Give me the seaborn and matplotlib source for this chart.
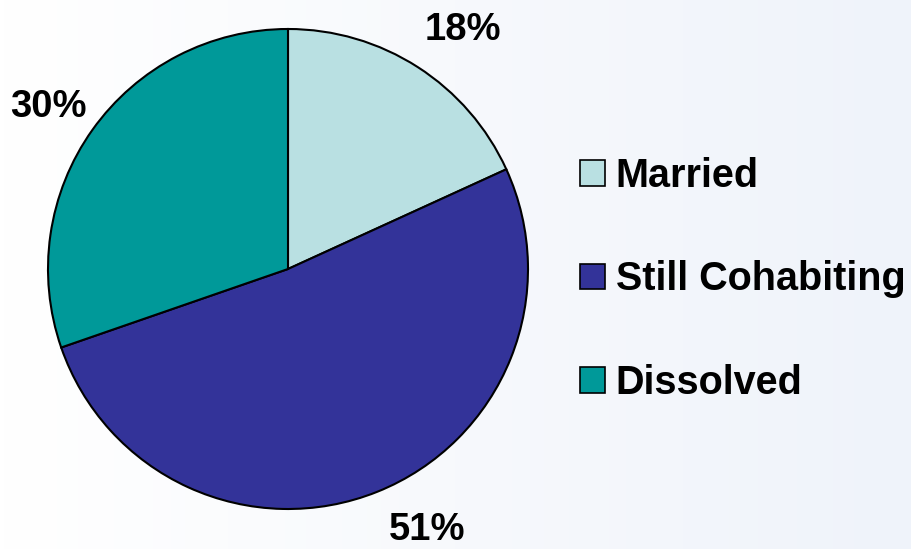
import numpy as np
import seaborn as sns
import matplotlib.pyplot as plt

# Dados do gráfico
categorias = ['Married', 'Still Cohabiting', 'Dissolved']
percentuais = [18, 51, 30]
rotulos = ['18%', '51%', '30%']
cores = sns.color_palette(['#B9E0E2', '#333399', '#009999'])

sns.set_style('white')
plt.rcParams['font.family'] = ['Liberation Sans', 'DejaVu Sans']
plt.rcParams['font.weight'] = 'bold'
plt.rcParams['text.color'] = 'black'

fig = plt.figure(figsize=(9.11, 5.49), dpi=100)
ax = fig.add_axes([0, 0, 1, 1])
ax.set_xlim(0, 911)
ax.set_ylim(0, 549)
ax.set_aspect('equal')
ax.axis('off')

# Fundo em degradê (branco -> azul claro)
grad = np.linspace(0, 1, 256)
cor_ini = np.array([1.0, 1.0, 1.0])
cor_fim = np.array([0xEF, 0xF3, 0xFA]) / 255
img = cor_ini[None, :] + (cor_fim - cor_ini)[None, :] * grad[:, None]
ax.imshow(img[None, :, :], extent=[0, 911, 0, 549], aspect='auto', zorder=0)

# Pizza
centro = (288, 280)
raio = 240
wedges, _ = ax.pie(percentuais, colors=cores, startangle=90, counterclock=False,
                   center=centro, radius=raio, frame=True,
                   wedgeprops=dict(edgecolor='black', linewidth=1.5))
ax.set_xlim(0, 911)
ax.set_ylim(0, 549)
ax.axis('off')

# Rótulos de porcentagem
pos_rotulos = [(463, 519), (427, 19), (48, 442)]
for txt, (x, y) in zip(rotulos, pos_rotulos):
    ax.text(x, y, txt, ha='center', va='center', fontsize=27.5,
            fontweight='bold', color='black')

# Legenda
leg = ax.legend(wedges, categorias, loc='center left', bbox_to_anchor=(580 / 911, 0.491),
                frameon=False, fontsize=28.5, handlelength=0.62, handleheight=0.62,
                handletextpad=0.28, labelspacing=1.66, borderpad=0, borderaxespad=0,
                labelcolor='black')
for h in leg.legend_handles:
    h.set_linewidth(1.2)

plt.savefig('out.png', dpi=100)
